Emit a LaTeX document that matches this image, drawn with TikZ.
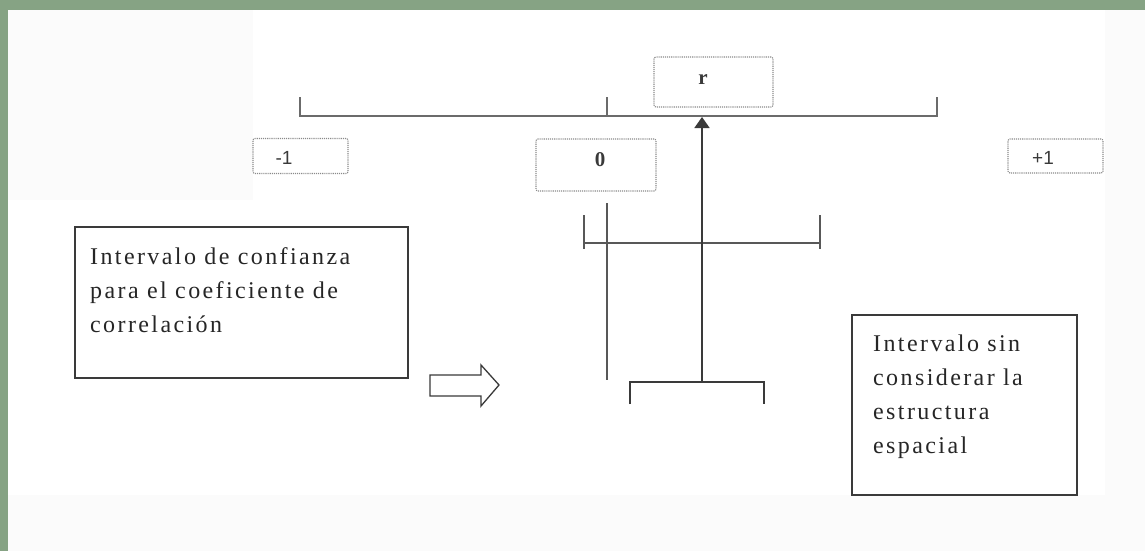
\documentclass[tikz,border=0pt]{standalone}
\usepackage{fontspec}
\setmainfont{Liberation Serif}
\newfontfamily\labsans{Liberation Sans}
\newfontfamily\boxserif[LetterSpace=10]{Liberation Serif}
\usetikzlibrary{arrows.meta}
\definecolor{frame}{HTML}{86A384}
\definecolor{ink}{HTML}{3A3A3A}
\definecolor{dotgray}{HTML}{8A8A8A}
\tikzset{
  axis/.style={draw=ink!85, line width=1.7pt},
  dotbox/.style={draw=dotgray, densely dotted, line width=1.1pt, rounded corners=2pt, inner sep=0pt},
  textbox/.style={draw=ink, line width=1.5pt, inner sep=0pt},
  boxtext/.style={anchor=north west, align=left, inner sep=0pt, text=black!85, font=\fontsize{24}{34}\boxserif},
}
\begin{document}
\begin{tikzpicture}[x=1pt,y=-1pt]
\useasboundingbox (0,0) rectangle (1145,551);
\fill[white] (0,0) rectangle (1145,551);
\fill[black!1.5] (8,10) rectangle (253,200);
\fill[black!1.5] (8,495) rectangle (1145,551);
\fill[black!1.5] (1105,10) rectangle (1145,495);
\fill[frame] (0,0) rectangle (1145,10);
\fill[frame] (0,0) rectangle (8,551);

% dotted label boxes
\node[dotbox, minimum width=119pt, minimum height=50pt] (rbox) at (713.5,82) {};
\node[font=\fontsize{21}{21}\selectfont\bfseries, text=ink] (rlab) at (703,80) {r};
\node[dotbox, minimum width=95pt, minimum height=35pt] (mbox) at (300.5,156) {};
\node[font=\fontsize{19}{19}\labsans, text=ink] (mlab) at (284,158) {-1};
\node[dotbox, minimum width=120pt, minimum height=52pt] (zbox) at (596,165) {};
\node[font=\fontsize{21}{21}\selectfont\bfseries, text=ink] (zlab) at (600,160) {0};
\node[dotbox, minimum width=95pt, minimum height=34pt] (pbox) at (1055.5,156) {};
\node[font=\fontsize{19}{19}\labsans, text=ink] (plab) at (1043,158) {+1};

% top scale
\coordinate (tl) at (300,116);
\coordinate (tr) at (937,116);
\coordinate (tm) at (607,116);
\draw[axis, line width=1.5pt, draw=ink!75] (300,97) -- (tl) -- (tr) -- (937,97);
\draw[axis, line width=1.5pt, draw=ink!75] (tm) -- (607,97);

% interval with spatial structure
\coordinate (il) at (584,243);
\coordinate (ir) at (820,243);
\draw[axis] (il) -- (ir);
\draw[axis] (584,215) -- (584,249);
\draw[axis] (820,215) -- (820,249);
\coordinate (vt) at (607,203);
\coordinate (vb) at (607,380);
\draw[axis] (vt) -- (vb);

% interval without spatial structure (bracket) and arrow to r
\coordinate (bm) at (702,382);
\coordinate (at) at (702,117);
\draw[axis, draw=ink] (630,404) -- (630,382) -- (764,382) -- (764,404);
\draw[axis, draw=ink, -{Triangle[width=15pt,length=11pt]}] (bm) -- (at);

% text boxes
\node[textbox, minimum width=333pt, minimum height=151pt] (lbox) at (241.5,302.5) {};
\node[boxtext] (ltext) at (90,247) {Intervalo de confianza\\para el coeficiente de\\correlación};
\node[textbox, minimum width=225pt, minimum height=180pt] (rtbox) at (964.5,405) {};
\node[boxtext] (rtext) at (873,335) {Intervalo sin\\considerar la\\estructura\\espacial};

% block arrow
\draw[draw=ink, line width=1.3pt, fill=white, line join=miter]
  (430,375) -- (481,375) -- (481,365) -- (499,385) -- (481,406) -- (481,396) -- (430,396) -- cycle;
\end{tikzpicture}
\end{document}
